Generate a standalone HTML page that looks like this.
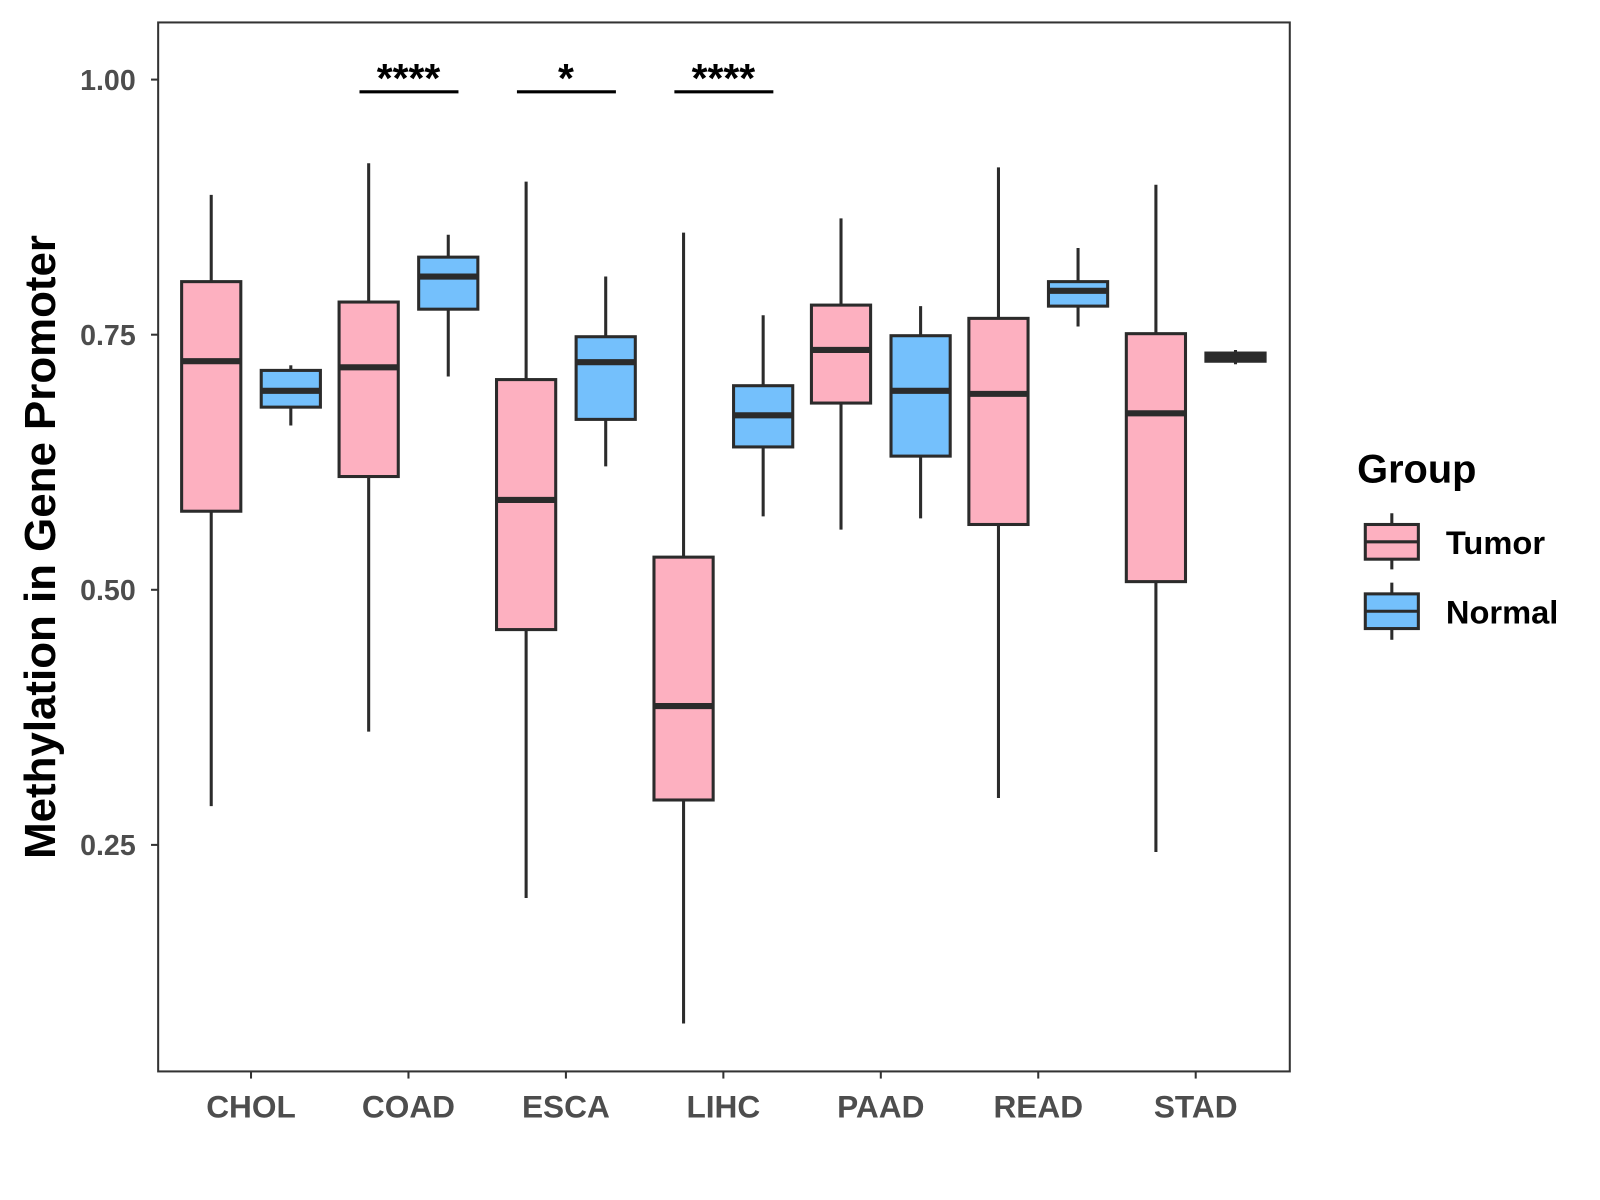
<!DOCTYPE html>
<html><head><meta charset="utf-8"><style>
body{margin:0;background:#fff;font-family:"Liberation Sans",Arial,sans-serif}
svg{display:block}
</style></head><body>
<svg id="chart" width="1600" height="1200" xmlns="http://www.w3.org/2000/svg" font-family="Liberation Sans, Arial, sans-serif">
<rect x="0" y="0" width="1600" height="1200" fill="#fff"/>
<g id="root" transform="scale(1.0204)">
<g id="plot"></g>
<rect x="155" y="22" width="1109" height="1028" fill="none" stroke="#333" stroke-width="2"/>
<text transform="translate(54,536) rotate(-90)" text-anchor="middle" font-size="43" font-weight="bold" fill="#000">Methylation in Gene Promoter</text>
<g>
<text x="1330" y="473" font-size="39" font-weight="bold">Group</text>
<line x1="1364" y1="503" x2="1364" y2="558" stroke="#2b2b2b" stroke-width="3"/>
<rect x="1338" y="514" width="52" height="34" fill="#FDB0C0" stroke="#2b2b2b" stroke-width="3"/>
<line x1="1338" y1="531" x2="1390" y2="531" stroke="#2b2b2b" stroke-width="3"/>
<text x="1417" y="543" font-size="32" font-weight="bold">Tumor</text>
<line x1="1364" y1="571" x2="1364" y2="627" stroke="#2b2b2b" stroke-width="3"/>
<rect x="1338" y="582" width="52" height="34" fill="#74C0FC" stroke="#2b2b2b" stroke-width="3"/>
<line x1="1338" y1="599" x2="1390" y2="599" stroke="#2b2b2b" stroke-width="3"/>
<text x="1417" y="611" font-size="32" font-weight="bold">Normal</text>
</g>
</g>
</svg>
<script>
const categories=["CHOL","COAD","ESCA","LIHC","PAAD","READ","STAD"];
const tumorMin=[0.288,0.361,0.198,0.075,0.559,0.296,0.243];
const tumorQ1=[0.577,0.611,0.461,0.294,0.683,0.564,0.508];
const tumorMed=[0.724,0.718,0.588,0.386,0.735,0.692,0.673];
const tumorQ3=[0.802,0.782,0.706,0.532,0.779,0.766,0.751];
const tumorMax=[0.887,0.918,0.900,0.850,0.864,0.914,0.897];
const normalMin=[0.661,0.709,0.621,0.572,0.570,0.758,0.721];
const normalQ1=[0.679,0.775,0.667,0.640,0.631,0.778,0.724];
const normalMed=[0.695,0.807,0.723,0.671,0.695,0.793,0.728];
const normalQ3=[0.715,0.826,0.748,0.700,0.749,0.802,0.732];
const normalMax=[0.720,0.848,0.807,0.769,0.778,0.835,0.735];
const yTicks=[0.25,0.5,0.75,1.0];
const yTickLabels=["0.25","0.50","0.75","1.00"];
const sigCats=["COAD","ESCA","LIHC"];
const sigLabels=["****","*","****"];
const sigY=0.988;

const NS="http://www.w3.org/2000/svg";
const g=document.getElementById('plot');
const root=document.getElementById('root');
function yS(v){return 78+(1-v)*1000;}
function xS(i){return 246+i*154.3;}
function mk(t,a,p){const e=document.createElementNS(NS,t);for(const k in a)e.setAttribute(k,a[k]);(p||g).appendChild(e);return e;}

yTicks.forEach((v,i)=>{
  const l=mk('line',{x1:148,x2:155,y1:yS(v),y2:yS(v),stroke:'#333','stroke-width':2},root);
  
  
  const t=mk('text',{x:133,y:yS(v)+10,'text-anchor':'end','font-size':28,'font-weight':'bold',fill:'#4d4d4d'},root);
  t.textContent=yTickLabels[i];
  
  
});
categories.forEach((c,i)=>{
  const l=mk('line',{x1:xS(i),x2:xS(i),y1:1050,y2:1057,stroke:'#333','stroke-width':2},root);
  
  
  const t=mk('text',{x:xS(i),y:1095,'text-anchor':'middle','font-size':31,'font-weight':'bold',fill:'#4d4d4d'},root);
  t.textContent=c;
  
  
});
function box(cx,mn,q1,md,q3,mx,fill,name){
  const grp=mk('g',{});
  
  
  mk('line',{x1:cx,x2:cx,y1:yS(mx),y2:yS(mn),stroke:'#2b2b2b','stroke-width':3},grp);
  mk('rect',{x:cx-29,y:yS(q3),width:58,height:yS(q1)-yS(q3),fill:fill,stroke:'#2b2b2b','stroke-width':3},grp);
  mk('line',{x1:cx-29,x2:cx+29,y1:yS(md),y2:yS(md),stroke:'#2b2b2b','stroke-width':6},grp);
}
categories.forEach((c,i)=>{
  box(xS(i)-39,tumorMin[i],tumorQ1[i],tumorMed[i],tumorQ3[i],tumorMax[i],'#FDB0C0','box-tumor-'+c.toLowerCase());
  box(xS(i)+39,normalMin[i],normalQ1[i],normalMed[i],normalQ3[i],normalMax[i],'#74C0FC','box-normal-'+c.toLowerCase());
});
sigCats.forEach((c,k)=>{
  const i=categories.indexOf(c);
  const l=mk('line',{x1:xS(i)-48,x2:xS(i)+49,y1:yS(sigY),y2:yS(sigY),stroke:'#000','stroke-width':3});
  
  
  const t=mk('text',{x:xS(i),y:yS(sigY)+0,'text-anchor':'middle','font-size':40,'font-weight':'bold',fill:'#000'});
  t.textContent=sigLabels[k];
  
  
});
</script>
</body></html>
